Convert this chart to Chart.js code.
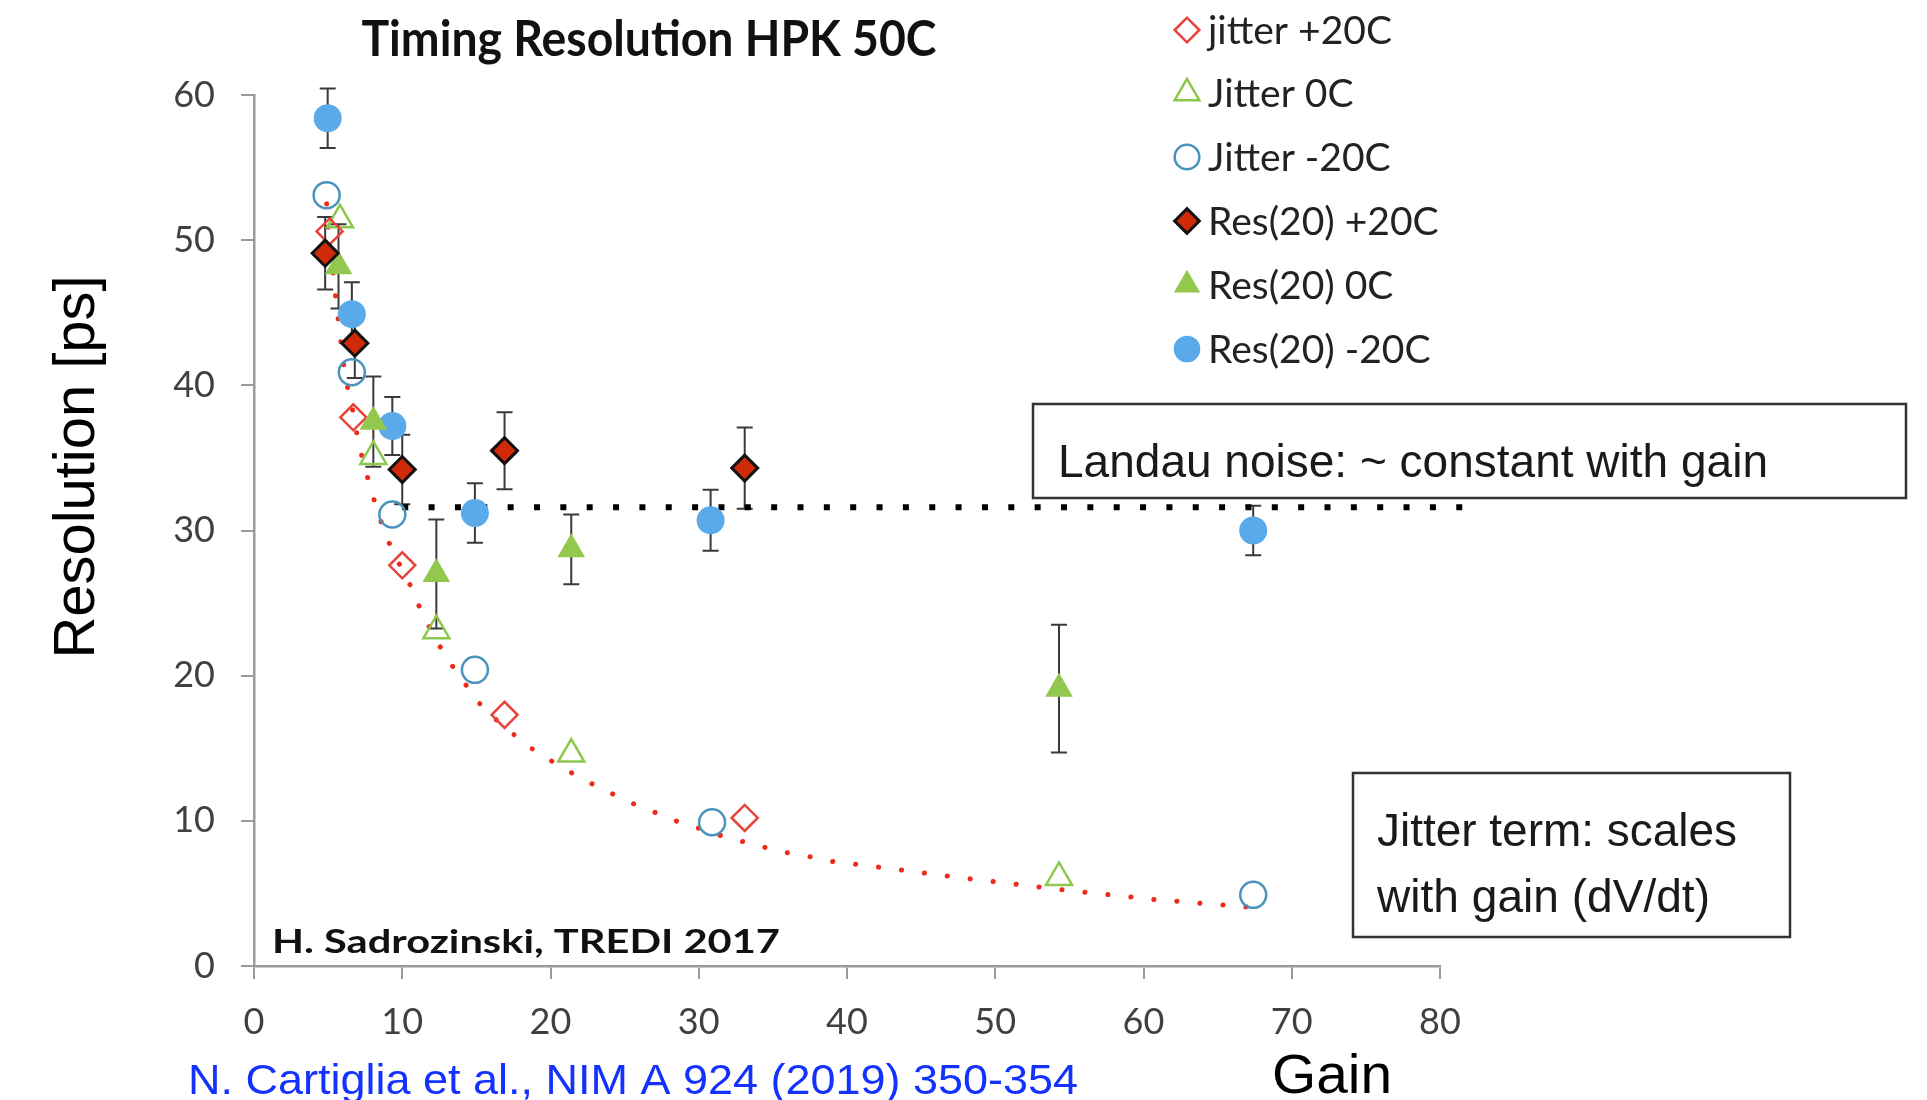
<!DOCTYPE html>
<html>
<head>
<meta charset="utf-8">
<script src="https://cdn.jsdelivr.net/npm/chart.js@4.4.1/dist/chart.umd.min.js"></script>
<style>
  html, body { margin: 0; padding: 0; background: #fff; }
  canvas { display: block; }
</style>
</head>
<body>
<canvas id="grafico" width="1927" height="1100"></canvas>
<script>
// valores
const gainJitP = [5.1, 6.7, 10.0, 16.9, 33.1];
const jitP     = [50.6, 37.8, 27.6, 17.3, 10.2];

const gainJit0 = [5.8, 8.05, 12.3, 21.4, 54.3];
const jit0     = [51.4, 35.1, 23.1, 14.6, 6.1];

const gainJitM = [4.9, 6.6, 9.33, 14.9, 30.9, 67.4];
const jitM     = [53.1, 40.9, 31.1, 20.4, 9.9, 4.9];

const gainResP = [4.8, 6.8, 10.0, 16.9, 33.1];
const resP     = [49.1, 42.9, 34.2, 35.5, 34.3];
const errResP  = [2.5, 2.4, 2.4, 2.65, 2.8];

const gainRes0 = [5.7, 8.05, 12.3, 21.4, 54.3];
const res0     = [48.2, 37.5, 27.0, 28.7, 19.1];
const errRes0  = [2.9, 3.1, 3.75, 2.4, 4.4];

const gainResM = [4.97, 6.6, 9.33, 14.9, 30.8, 67.4];
const resM     = [58.4, 44.9, 37.2, 31.2, 30.7, 30.0];
const errResM  = [2.05, 2.2, 2.0, 2.05, 2.1, 1.7];

// curva pontilhada vermelha (jitter)
const fitX = [4.9, 5.0, 5.4, 5.7, 6.0, 6.3, 6.7, 7.0, 7.4, 7.9, 8.4, 9.0, 9.8, 10.6, 11.3, 12.1, 13.0,
              14.0, 15.0, 16.3, 17.7, 19.1, 20.6, 22.1, 23.7, 25.3, 27.0, 28.7, 30.3, 32.0, 33.7, 35.4,
              37.2, 39.0, 40.7, 47.5, 54.1, 60.5, 67.2];
const fitY = [52.5, 50.6, 47.1, 44.4, 41.7, 39.9, 38.1, 36.3, 34.6, 32.8, 31.1, 29.4, 27.7, 26.1, 24.4, 22.8, 21.2,
              19.8, 18.3, 17.0, 15.8, 14.7, 13.8, 12.9, 12.1, 11.3, 10.6, 9.9, 9.4, 8.8, 8.4, 7.9,
              7.6, 7.2, 7.0, 6.1, 5.3, 4.6, 4.05];

// linha Landau
const landauX = [10.0, 81.6];
const landauY = [31.6, 31.6];

const xTicks = [0, 10, 20, 30, 40, 50, 60, 70, 80];
const yTicks = [0, 10, 20, 30, 40, 50, 60];

const FONTE_CAL = 'Lato, "Open Sans", sans-serif';
const FONTE_HEL = '"Liberation Sans", Arial, sans-serif';

const pts = (xs, ys) => xs.map((x, i) => ({ x, y: ys[i] }));

// texto esticado/comprimido para largura fixa
function textoLargura(ctx, texto, x, y, largura, centro) {
  const w = ctx.measureText(texto).width;
  ctx.save();
  ctx.translate(x, y);
  ctx.scale(largura / w, 1);
  ctx.textAlign = 'left';
  ctx.fillText(texto, centro ? -w / 2 : 0, 0);
  ctx.restore();
}

const barrasErro = {
  id: 'barrasErro',
  beforeDatasetsDraw(chart) {
    const ctx = chart.ctx;
    const xs = chart.scales.x, ys = chart.scales.y;
    ctx.save();
    ctx.strokeStyle = '#3a3a3a';
    ctx.lineWidth = 2;
    chart.data.datasets.forEach(ds => {
      if (!ds.erros) return;
      ds.data.forEach((p, i) => {
        const e = ds.erros[i];
        if (!e) return;
        const px = xs.getPixelForValue(p.x);
        const y1 = ys.getPixelForValue(p.y + e);
        const y2 = ys.getPixelForValue(p.y - e);
        ctx.beginPath();
        ctx.moveTo(px, y1); ctx.lineTo(px, y2);
        ctx.moveTo(px - 8, y1); ctx.lineTo(px + 8, y1);
        ctx.moveTo(px - 8, y2); ctx.lineTo(px + 8, y2);
        ctx.stroke();
      });
    });
    ctx.restore();
  }
};

const anotacoes = {
  id: 'anotacoes',
  afterDraw(chart) {
    const ctx = chart.ctx;
    ctx.save();
    ctx.textBaseline = 'alphabetic';

    // título
    ctx.fillStyle = '#111';
    ctx.font = 'bold 50px ' + FONTE_CAL;
    textoLargura(ctx, 'Timing Resolution HPK 50C', 649, 56, 575, true);

    // legenda
    const legenda = chart.data.datasets.filter(d => d.naLegenda);
    const linhas = [30, 93, 157, 221, 285, 349];
    legenda.forEach((ds, i) => {
      ctx.save();
      ctx.fillStyle = ds.backgroundColor;
      ctx.strokeStyle = ds.borderColor;
      ctx.lineWidth = ds.borderWidth;
      Chart.helpers.drawPoint(ctx, {
        pointStyle: ds.pointStyle, radius: ds.pointRadius * 0.95, rotation: 0, borderWidth: ds.borderWidth
      }, 1187, linhas[i]);
      ctx.restore();
      ctx.fillStyle = '#222';
      ctx.font = '39px ' + FONTE_CAL;
      ctx.textBaseline = 'middle';
      ctx.textAlign = 'left';
      ctx.fillText(ds.label, 1208, linhas[i] + 1);
    });
    ctx.textBaseline = 'alphabetic';
    ctx.textAlign = 'left';

    // caixas de texto
    ctx.strokeStyle = '#333';
    ctx.lineWidth = 2.5;
    ctx.strokeRect(1033, 404, 873, 94);
    ctx.strokeRect(1353, 773, 437, 164);
    ctx.fillStyle = '#1a1a1a';
    ctx.font = '46px ' + FONTE_HEL;
    textoLargura(ctx, 'Landau noise: ~ constant with gain', 1058, 477, 710, false);
    textoLargura(ctx, 'Jitter term: scales', 1377, 846, 360, false);
    textoLargura(ctx, 'with gain (dV/dt)', 1377, 912, 333, false);

    // autor
    ctx.fillStyle = '#111';
    ctx.font = 'bold 33px ' + FONTE_CAL;
    textoLargura(ctx, 'H. Sadrozinski, TREDI 2017', 272, 953, 508, false);

    // título do eixo y
    ctx.fillStyle = '#000';
    ctx.font = '58px ' + FONTE_HEL;
    ctx.save();
    ctx.translate(94, 467);
    ctx.rotate(-Math.PI / 2);
    textoLargura(ctx, 'Resolution [ps]', 0, 0, 383, true);
    ctx.restore();

    // título do eixo x
    ctx.font = '56px ' + FONTE_HEL;
    textoLargura(ctx, 'Gain', 1272, 1093, 120, false);

    // referência
    ctx.fillStyle = '#1432ff';
    ctx.font = '42px ' + FONTE_HEL;
    textoLargura(ctx, 'N. Cartiglia et al., NIM A 924 (2019) 350-354', 188, 1094, 890, false);

    ctx.restore();
  }
};

const fonteTicks = { family: FONTE_CAL, size: 36 };

new Chart(document.getElementById('grafico').getContext('2d'), {
  type: 'scatter',
  data: {
    datasets: [
      {
        type: 'line', label: 'fit jitter', data: pts(fitX, fitY),
        borderColor: '#ee2a1a', borderWidth: 5, borderDash: [0.1, 23], borderCapStyle: 'round',
        pointRadius: 0, fill: false, tension: 0, order: 10
      },
      {
        type: 'line', label: 'Landau', data: pts(landauX, landauY), clip: false,
        borderColor: '#000', borderWidth: 6, borderDash: [6, 20.35], borderCapStyle: 'butt',
        pointRadius: 0, fill: false, order: 9
      },
      {
        label: 'jitter +20C', naLegenda: true, data: pts(gainJitP, jitP),
        pointStyle: 'rectRot', pointRadius: 13, borderWidth: 2.5,
        backgroundColor: 'rgba(0,0,0,0)', borderColor: '#e8433a', order: 5
      },
      {
        label: 'Jitter 0C', naLegenda: true, data: pts(gainJit0, jit0),
        pointStyle: 'triangle', pointRadius: 15, borderWidth: 2.5,
        backgroundColor: 'rgba(0,0,0,0)', borderColor: '#8cc84b', order: 5
      },
      {
        label: 'Jitter -20C', naLegenda: true, data: pts(gainJitM, jitM),
        pointStyle: 'circle', pointRadius: 13, borderWidth: 2.5,
        backgroundColor: 'rgba(0,0,0,0)', borderColor: '#4a93bd', order: 5
      },
      {
        label: 'Res(20) +20C', naLegenda: true, data: pts(gainResP, resP), erros: errResP,
        pointStyle: 'rectRot', pointRadius: 13, borderWidth: 3,
        backgroundColor: '#d02a08', borderColor: '#111', order: 1
      },
      {
        label: 'Res(20) 0C', naLegenda: true, data: pts(gainRes0, res0), erros: errRes0,
        pointStyle: 'triangle', pointRadius: 16, borderWidth: 0,
        backgroundColor: '#93c84e', borderColor: '#93c84e', order: 2
      },
      {
        label: 'Res(20) -20C', naLegenda: true, data: pts(gainResM, resM), erros: errResM,
        pointStyle: 'circle', pointRadius: 14, borderWidth: 0,
        backgroundColor: '#5aaaea', borderColor: '#5aaaea', order: 3
      }
    ]
  },
  options: {
    responsive: false,
    animation: false,
    layout: { padding: { left: 134, right: 487, top: 95, bottom: 54 } },
    plugins: { legend: { display: false }, tooltip: { enabled: false } },
    scales: {
      x: {
        type: 'linear', min: 0, max: 80,
        afterBuildTicks: s => { s.ticks = xTicks.map(v => ({ value: v })); },
        afterFit: s => { s.height = 80; },
        ticks: { font: fonteTicks, color: '#404040', padding: 22 },
        grid: { drawOnChartArea: false, drawTicks: true, tickLength: 13, color: '#9a9a9a', lineWidth: 2 },
        border: { display: true, color: '#9a9a9a', width: 2.5 }
      },
      y: {
        type: 'linear', min: 0, max: 60,
        afterBuildTicks: s => { s.ticks = yTicks.map(v => ({ value: v })); },
        afterFit: s => { s.width = 120; },
        ticks: { font: fonteTicks, color: '#404040', padding: 26 },
        grid: { drawOnChartArea: false, drawTicks: true, tickLength: 13, color: '#9a9a9a', lineWidth: 2 },
        border: { display: true, color: '#9a9a9a', width: 2.5 }
      }
    }
  },
  plugins: [barrasErro, anotacoes]
});
</script>
</body>
</html>
